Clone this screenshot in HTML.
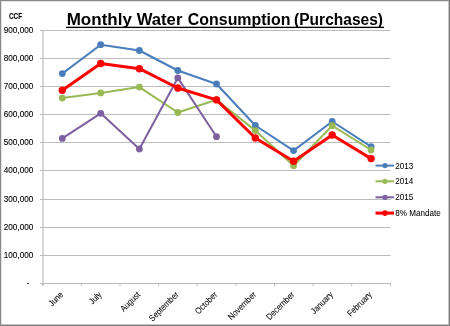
<!DOCTYPE html>
<html><head><meta charset="utf-8"><style>
html,body{margin:0;padding:0;background:#fff;}
body{width:450px;height:326px;position:relative;overflow:hidden;font-family:"Liberation Sans",sans-serif;}
</style></head><body>
<svg width="450" height="326" viewBox="0 0 450 326" style="position:absolute;left:0;top:0;will-change:transform">
<g font-family="Liberation Sans" font-size="9" fill="#000" stroke="#000" stroke-width="0.12">
<line x1="43" y1="30" x2="43" y2="286" stroke="#D2D2D2" stroke-width="1.8"/><line x1="40" y1="30.5" x2="390.5" y2="30.5" stroke="#BCBCBC" stroke-width="1.2"/><line x1="40" y1="58.5" x2="390.5" y2="58.5" stroke="#BCBCBC" stroke-width="1.2"/><line x1="40" y1="86.5" x2="390.5" y2="86.5" stroke="#BCBCBC" stroke-width="1.2"/><line x1="40" y1="114.5" x2="390.5" y2="114.5" stroke="#BCBCBC" stroke-width="1.2"/><line x1="40" y1="142.5" x2="390.5" y2="142.5" stroke="#BCBCBC" stroke-width="1.2"/><line x1="40" y1="170.5" x2="390.5" y2="170.5" stroke="#BCBCBC" stroke-width="1.2"/><line x1="40" y1="199.5" x2="390.5" y2="199.5" stroke="#BCBCBC" stroke-width="1.2"/><line x1="40" y1="227.5" x2="390.5" y2="227.5" stroke="#BCBCBC" stroke-width="1.2"/><line x1="40" y1="255.5" x2="390.5" y2="255.5" stroke="#BCBCBC" stroke-width="1.2"/><line x1="40" y1="283.5" x2="390.5" y2="283.5" stroke="#BCBCBC" stroke-width="1"/><line x1="42.7" y1="283" x2="42.7" y2="286" stroke="#BCBCBC" stroke-width="1"/><line x1="81.3" y1="283" x2="81.3" y2="286" stroke="#BCBCBC" stroke-width="1"/><line x1="120.0" y1="283" x2="120.0" y2="286" stroke="#BCBCBC" stroke-width="1"/><line x1="158.6" y1="283" x2="158.6" y2="286" stroke="#BCBCBC" stroke-width="1"/><line x1="197.2" y1="283" x2="197.2" y2="286" stroke="#BCBCBC" stroke-width="1"/><line x1="235.9" y1="283" x2="235.9" y2="286" stroke="#BCBCBC" stroke-width="1"/><line x1="274.5" y1="283" x2="274.5" y2="286" stroke="#BCBCBC" stroke-width="1"/><line x1="313.1" y1="283" x2="313.1" y2="286" stroke="#BCBCBC" stroke-width="1"/><line x1="351.7" y1="283" x2="351.7" y2="286" stroke="#BCBCBC" stroke-width="1"/><line x1="390.4" y1="283" x2="390.4" y2="286" stroke="#BCBCBC" stroke-width="1"/>
<polyline points="62.3,73.6 100.7,44.7 139.4,50.5 177.8,70.5 216.5,84.0 255.3,125.5 293.6,150.6 332.2,121.5 371.1,146.6" fill="none" stroke="#4A7EBB" stroke-width="2" stroke-linejoin="round" stroke-linecap="round"/><circle cx="62.3" cy="73.6" r="3.4" fill="#4A7EBB" stroke="none"/><circle cx="100.7" cy="44.7" r="3.4" fill="#4A7EBB" stroke="none"/><circle cx="139.4" cy="50.5" r="3.4" fill="#4A7EBB" stroke="none"/><circle cx="177.8" cy="70.5" r="3.4" fill="#4A7EBB" stroke="none"/><circle cx="216.5" cy="84.0" r="3.4" fill="#4A7EBB" stroke="none"/><circle cx="255.3" cy="125.5" r="3.4" fill="#4A7EBB" stroke="none"/><circle cx="293.6" cy="150.6" r="3.4" fill="#4A7EBB" stroke="none"/><circle cx="332.2" cy="121.5" r="3.4" fill="#4A7EBB" stroke="none"/><circle cx="371.1" cy="146.6" r="3.4" fill="#4A7EBB" stroke="none"/>
<polyline points="62.3,98.1 100.7,92.9 139.4,87.1 177.8,112.5 216.5,99.7 255.3,130.6 293.6,165.7 332.2,125.7 371.1,150.0" fill="none" stroke="#98B954" stroke-width="2" stroke-linejoin="round" stroke-linecap="round"/><circle cx="62.3" cy="98.1" r="3.4" fill="#98B954" stroke="none"/><circle cx="100.7" cy="92.9" r="3.4" fill="#98B954" stroke="none"/><circle cx="139.4" cy="87.1" r="3.4" fill="#98B954" stroke="none"/><circle cx="177.8" cy="112.5" r="3.4" fill="#98B954" stroke="none"/><circle cx="216.5" cy="99.7" r="3.4" fill="#98B954" stroke="none"/><circle cx="255.3" cy="130.6" r="3.4" fill="#98B954" stroke="none"/><circle cx="293.6" cy="165.7" r="3.4" fill="#98B954" stroke="none"/><circle cx="332.2" cy="125.7" r="3.4" fill="#98B954" stroke="none"/><circle cx="371.1" cy="150.0" r="3.4" fill="#98B954" stroke="none"/>
<polyline points="62.3,138.4 100.7,113.3 139.4,149.0 177.8,77.9 216.5,136.7" fill="none" stroke="#7D60A0" stroke-width="2" stroke-linejoin="round" stroke-linecap="round"/><circle cx="62.3" cy="138.4" r="3.4" fill="#7D60A0" stroke="none"/><circle cx="100.7" cy="113.3" r="3.4" fill="#7D60A0" stroke="none"/><circle cx="139.4" cy="149.0" r="3.4" fill="#7D60A0" stroke="none"/><circle cx="177.8" cy="77.9" r="3.4" fill="#7D60A0" stroke="none"/><circle cx="216.5" cy="136.7" r="3.4" fill="#7D60A0" stroke="none"/>
<polyline points="62.3,90.2 100.7,63.5 139.4,68.7 177.8,88.0 216.5,99.9 255.3,138.0 293.6,161.2 332.2,135.0 371.1,158.6" fill="none" stroke="#FF0000" stroke-width="3.0" stroke-linejoin="round" stroke-linecap="round"/><circle cx="62.3" cy="90.2" r="3.7" fill="#FF0000" stroke="none"/><circle cx="100.7" cy="63.5" r="3.7" fill="#FF0000" stroke="none"/><circle cx="139.4" cy="68.7" r="3.7" fill="#FF0000" stroke="none"/><circle cx="177.8" cy="88.0" r="3.7" fill="#FF0000" stroke="none"/><circle cx="216.5" cy="99.9" r="3.7" fill="#FF0000" stroke="none"/><circle cx="255.3" cy="138.0" r="3.7" fill="#FF0000" stroke="none"/><circle cx="293.6" cy="161.2" r="3.7" fill="#FF0000" stroke="none"/><circle cx="332.2" cy="135.0" r="3.7" fill="#FF0000" stroke="none"/><circle cx="371.1" cy="158.6" r="3.7" fill="#FF0000" stroke="none"/>
<text transform="translate(33.3,33.3) scale(0.91,1)" text-anchor="end" >900,000</text><text transform="translate(33.3,61.3) scale(0.91,1)" text-anchor="end" >800,000</text><text transform="translate(33.3,89.3) scale(0.91,1)" text-anchor="end" >700,000</text><text transform="translate(33.3,117.3) scale(0.91,1)" text-anchor="end" >600,000</text><text transform="translate(33.3,145.3) scale(0.91,1)" text-anchor="end" >500,000</text><text transform="translate(33.3,173.3) scale(0.91,1)" text-anchor="end" >400,000</text><text transform="translate(33.3,202.3) scale(0.91,1)" text-anchor="end" >300,000</text><text transform="translate(33.3,230.3) scale(0.91,1)" text-anchor="end" >200,000</text><text transform="translate(33.3,258.3) scale(0.91,1)" text-anchor="end" >100,000</text><text transform="translate(29.5,286) scale(0.88,1)" text-anchor="end" >-</text>
<text transform="translate(59.5,291.0) rotate(-45) scale(0.86,1)" y="6" text-anchor="end" stroke-width="0.04">June</text><text transform="translate(97.9,291.0) rotate(-45) scale(0.86,1)" y="6" text-anchor="end" stroke-width="0.04">July</text><text transform="translate(136.6,291.0) rotate(-45) scale(0.86,1)" y="6" text-anchor="end" stroke-width="0.04">August</text><text transform="translate(175.0,291.0) rotate(-45) scale(0.86,1)" y="6" text-anchor="end" stroke-width="0.04">September</text><text transform="translate(213.7,291.0) rotate(-45) scale(0.86,1)" y="6" text-anchor="end" stroke-width="0.04">October</text><text transform="translate(252.5,291.0) rotate(-45) scale(0.86,1)" y="6" text-anchor="end" stroke-width="0.04">November</text><text transform="translate(290.8,291.0) rotate(-45) scale(0.86,1)" y="6" text-anchor="end" stroke-width="0.04">December</text><text transform="translate(329.4,291.0) rotate(-45) scale(0.86,1)" y="6" text-anchor="end" stroke-width="0.04">January</text><text transform="translate(368.3,291.0) rotate(-45) scale(0.86,1)" y="6" text-anchor="end" stroke-width="0.04">February</text>
<line x1="375.5" y1="165.6" x2="394" y2="165.6" stroke="#4A7EBB" stroke-width="2"/><circle cx="385" cy="165.6" r="2.6" fill="#4A7EBB" stroke="none"/><text transform="translate(395.3,168.6) scale(0.9,1)" text-anchor="start" stroke-width="0.06">2013</text><line x1="375.5" y1="181.3" x2="394" y2="181.3" stroke="#98B954" stroke-width="2"/><circle cx="385" cy="181.3" r="2.6" fill="#98B954" stroke="none"/><text transform="translate(395.3,184.3) scale(0.9,1)" text-anchor="start" stroke-width="0.06">2014</text><line x1="375.5" y1="197.3" x2="394" y2="197.3" stroke="#7D60A0" stroke-width="2"/><circle cx="385" cy="197.3" r="2.6" fill="#7D60A0" stroke="none"/><text transform="translate(395.3,200.3) scale(0.9,1)" text-anchor="start" stroke-width="0.06">2015</text><line x1="375.5" y1="213.1" x2="394" y2="213.1" stroke="#FF0000" stroke-width="3"/><circle cx="385" cy="213.1" r="2.8" fill="#FF0000" stroke="none"/><text transform="translate(395.3,216.4) scale(0.9,1)" text-anchor="start" stroke-width="0.06">8% Mandate</text>
<text transform="translate(9,19) scale(0.75,1)" font-weight="bold" font-size="8.5">CCF</text>
<g font-size="17" font-weight="bold" stroke="none">
<text transform="translate(66.7,25) scale(1.0,1)">Monthly</text>
<text transform="translate(136.7,25) scale(0.98,1)">Water</text>
<text transform="translate(187.8,25) scale(0.938,1)">Consumption</text>
<text transform="translate(294.1,25) scale(0.914,1)">(Purchases)</text>
</g>
<rect x="66" y="26.7" width="318" height="1.35" fill="#000" stroke="none"/>
</g>
<rect x="1" y="1" width="1" height="323" fill="#e2e2e2"/>
<rect x="1" y="1" width="447" height="1" fill="#e2e2e2"/>
<rect x="448" y="1" width="1" height="324" fill="#c4c4c4"/>
<rect x="1" y="324" width="448" height="1" fill="#c4c4c4"/>
<rect x="0" y="0" width="1" height="326" fill="#8a8a8a"/>
<rect x="0" y="0" width="450" height="1" fill="#8a8a8a"/>
<rect x="449" y="0" width="1" height="326" fill="#7c7c7c"/>
<rect x="0" y="325" width="450" height="1" fill="#7c7c7c"/>
</svg>
</body></html>
